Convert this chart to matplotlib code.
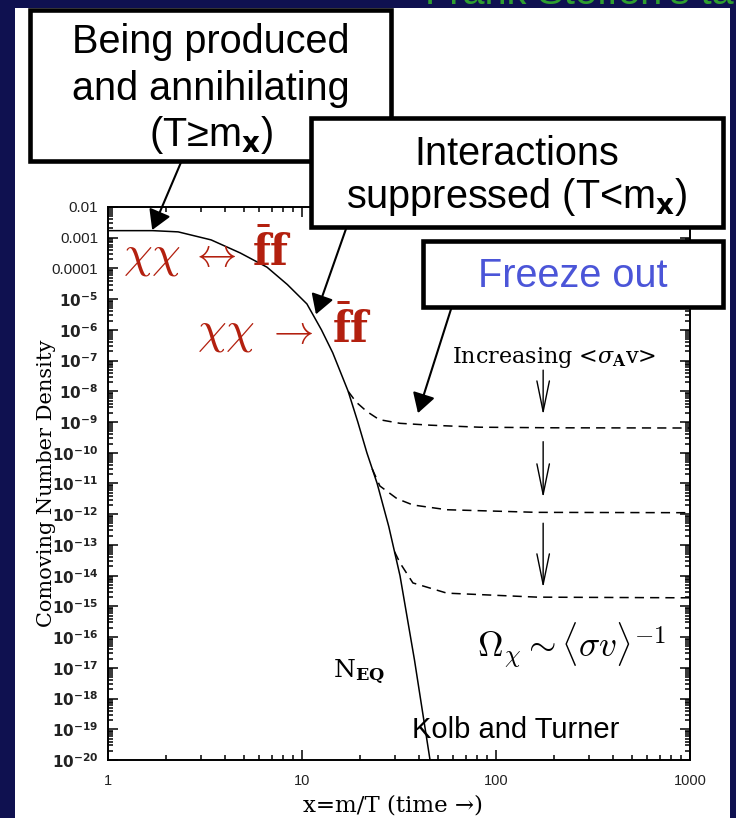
import numpy as np
import matplotlib
matplotlib.use('Agg')
from matplotlib import pyplot as plt
from matplotlib.patches import Rectangle
from matplotlib.ticker import LogLocator, NullFormatter

plt.rcParams['font.family'] = ['Liberation Sans', 'DejaVu Sans']

# equilibrium abundance N_EQ
x_eq = [1.0, 1.7, 2.3, 3.4, 4.8, 6.6, 8.4, 10.6, 12.6, 14.4, 17.3, 19.4,
        21.6, 24.4, 28.0, 32.0, 38.0, 45.7]
y_eq = [1.7e-3, 1.7e-3, 1.55e-3, 8.5e-4, 3.2e-4, 1.1e-4, 3.0e-5, 7.0e-6,
        1.0e-6, 1.8e-7, 1.0e-8, 1.0e-9, 1.0e-10, 1.0e-11, 4.0e-13, 1.0e-14,
        1.8e-17, 1.0e-20]

# freeze-out curves, increasing <sigma v> from top to bottom
x_fo1 = [17.3, 19.0, 21.6, 25.0, 32.0, 46.0, 82.0, 200.0, 1000.0]
y_fo1 = [1.0e-8, 4.5e-9, 2.2e-9, 1.2e-9, 9.1e-10, 7.9e-10, 6.8e-10, 6.5e-10, 6.4e-10]
x_fo2 = [23.0, 25.2, 30.9, 37.3, 55.8, 163.0, 1000.0]
y_fo2 = [3.0e-11, 8.3e-12, 3.2e-12, 2.0e-12, 1.4e-12, 1.15e-12, 1.12e-12]
x_fo3 = [30.0, 32.0, 37.3, 55.8, 163.0, 1000.0]
y_fo3 = [6.0e-14, 2.6e-14, 5.8e-15, 2.7e-15, 2.0e-15, 1.9e-15]

# little "increasing <sigma v>" arrows
arrow_x = 175.0
arrow_tail = [4.9e-8, 2.3e-10, 5.1e-13]
arrow_head = [1.7e-9, 3.4e-12, 4.0e-15]

yticks = [10.0 ** -n for n in range(2, 21)]
ylabels = ['0.01', '0.001', '0.0001'] + [r'$\mathbf{10^{-%d}}$' % n for n in range(5, 21)]
xticks = [1, 10, 100, 1000]
xlabels = ['1', '10', '100', '1000']

W, H = 736, 818
NAVY = '#0f1150'
RED = '#b3200f'


def fx(x):
    return x / W


def fy(y):
    return 1 - y / H


fig = plt.figure(figsize=(W / 100, H / 100), dpi=100, facecolor=NAVY)
fig.add_artist(Rectangle((fx(15), 0), 715 / W, 810 / H, transform=fig.transFigure,
                         facecolor='white', edgecolor='none', zorder=-10))

ax = fig.add_axes([fx(108), fy(760), 582 / W, 553 / H])
ax.set_xscale('log')
ax.set_yscale('log')
ax.set_xlim(1, 1000)
ax.set_ylim(1e-20, 1e-2)

ax.plot(x_eq, y_eq, color='black', lw=1.1)
for xs, ys in [(x_fo1, y_fo1), (x_fo2, y_fo2), (x_fo3, y_fo3)]:
    ax.plot(xs, ys, color='black', lw=1.1, ls='--', dashes=(6, 4))

for t, h in zip(arrow_tail, arrow_head):
    ax.annotate('', xy=(arrow_x, h), xytext=(arrow_x, t),
                arrowprops=dict(arrowstyle='->,head_length=2.2,head_width=0.45',
                                mutation_scale=10, lw=1.0, color='black',
                                shrinkA=0, shrinkB=0))

ax.set_yticks(yticks, labels=ylabels, fontsize=11, color='#222222')
ax.set_xticks(xticks, labels=xlabels, fontsize=10.5, color='#222222')
ax.yaxis.set_minor_locator(LogLocator(base=10, subs=np.arange(2, 10), numticks=100))
ax.xaxis.set_minor_locator(LogLocator(base=10, subs=np.arange(2, 10), numticks=100))
ax.yaxis.set_minor_formatter(NullFormatter())
ax.xaxis.set_minor_formatter(NullFormatter())
ax.tick_params(which='both', direction='in', top=True, right=True, width=1.1)
ax.tick_params(which='major', length=7)
ax.tick_params(which='minor', length=3.5)
ax.tick_params(axis='y', pad=7)
ax.tick_params(axis='x', pad=10)
for s in ax.spines.values():
    s.set_linewidth(1.4)

ax.set_ylabel('Comoving Number Density', family='DejaVu Serif', fontsize=15)
ax.yaxis.set_label_coords(-0.089, 0.5)
ax.set_xlabel('x=m/T (time →)', family='DejaVu Serif', fontsize=16.5)
ax.xaxis.set_label_coords(0.49, -0.062)

# pointer arrows from the boxes
arrow_kw = dict(arrowstyle='-|>,head_length=0.85,head_width=0.5', mutation_scale=14,
                lw=1.5, color='black', shrinkA=0, shrinkB=0)
ax.annotate('', xy=(1.69, 1.78e-3), xytext=(fx(182), fy(160)),
            textcoords='figure fraction', arrowprops=arrow_kw, annotation_clip=False)
ax.annotate('', xy=(11.8, 3.2e-6), xytext=(fx(347), fy(226)),
            textcoords='figure fraction', arrowprops=arrow_kw, annotation_clip=False)
ax.annotate('', xy=(39.6, 1.95e-9), xytext=(fx(452), fy(306)),
            textcoords='figure fraction', arrowprops=arrow_kw, annotation_clip=False)


def box(x0, y0, x1, y1, z):
    fig.add_artist(Rectangle((fx(x0), fy(y1)), (x1 - x0) / W, (y1 - y0) / H,
                             transform=fig.transFigure, facecolor='white',
                             edgecolor='black', lw=3.3, zorder=z))


BOXFS = 28.5
box(30, 10, 391, 161, 5)
fig.text(fx(211), fy(53), 'Being produced', fontsize=BOXFS, ha='center', va='baseline', zorder=5.5)
fig.text(fx(211), fy(100), 'and annihilating', fontsize=BOXFS, ha='center', va='baseline', zorder=5.5)
fig.text(fx(211), fy(146), r'(T≥m$_{\mathbf{x}}$)', fontsize=BOXFS, ha='center', va='baseline', zorder=5.5)

box(311, 118, 723, 227, 6)
fig.text(fx(517), fy(165), 'Interactions', fontsize=BOXFS, ha='center', va='baseline', zorder=6.5)
fig.text(fx(517), fy(208), r'suppressed (T<m$_{\mathbf{x}}$)', fontsize=BOXFS, ha='center',
         va='baseline', zorder=6.5)

box(423, 241, 723, 307, 7)
fig.text(fx(573), fy(287), 'Freeze out', fontsize=BOXFS, color='#4b55d8', ha='center',
         va='baseline', zorder=7.5)

fig.text(fx(425), fy(4), "Frank Steffen's talk", fontsize=BOXFS, color='#2f9e2f',
         va='baseline', zorder=10)

# reactions, in red
for (xc, xa, xf, yb, arrow) in [(123, 189, 252, 266, r'$\leftrightarrow$'),
                                (197, 266, 332, 343, r'$\rightarrow$')]:
    fig.text(fx(xc), fy(yb), r'$\chi\chi$', fontsize=33, color=RED,
             math_fontfamily='cm', va='baseline')
    fig.text(fx(xa), fy(yb), arrow, fontsize=29, color=RED,
             math_fontfamily='cm', va='baseline')
    fig.text(fx(xf), fy(yb), r'$\bar{\mathbf{f}}\mathbf{f}$', fontsize=30, color=RED,
             math_fontfamily='dejavuserif', va='baseline')

fig.text(fx(452), fy(357), r'Increasing <$\sigma_{\mathbf{A}}$v>', family='DejaVu Serif',
         math_fontfamily='dejavuserif', fontsize=16, va='center')
fig.text(fx(477), fy(645), r'$\Omega_\chi \sim \langle\sigma v\rangle^{-1}$',
         fontsize=25.5, math_fontfamily='cm', va='center')
fig.text(fx(333), fy(678), r'N$_{\mathbf{EQ}}$', family='DejaVu Serif',
         math_fontfamily='dejavuserif', fontsize=18, va='baseline')
fig.text(fx(412), fy(738), 'Kolb and Turner', fontsize=21, va='baseline')

fig.savefig('out.png', dpi=100, facecolor=NAVY)
